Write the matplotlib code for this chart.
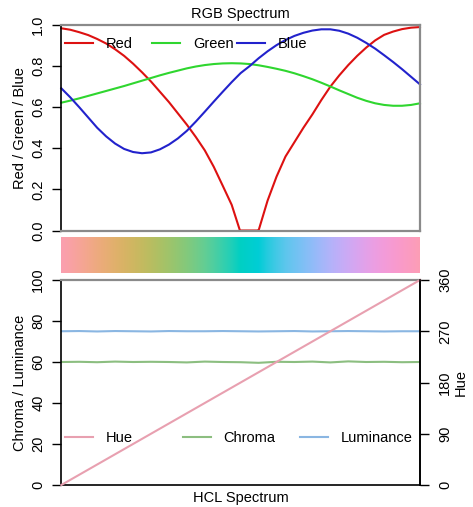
import numpy as np
import matplotlib
matplotlib.use("Agg")
import matplotlib.pyplot as plt
from matplotlib.lines import Line2D
from matplotlib.legend import Legend

plt.rcParams['font.family'] = ['Liberation Sans', 'DejaVu Sans']
plt.rcParams['font.size'] = 10.5

# RGB spectrum values (position along palette 0..1)
pos = [0.0, 0.025, 0.05, 0.075, 0.1, 0.125, 0.15, 0.175, 0.2, 0.225,
       0.25, 0.275, 0.3, 0.325, 0.35, 0.375, 0.4, 0.425, 0.45, 0.475,
       0.5, 0.525, 0.55, 0.575, 0.6, 0.625, 0.65, 0.675, 0.7, 0.725,
       0.75, 0.775, 0.8, 0.825, 0.85, 0.875, 0.9, 0.925, 0.95, 0.975, 1.0]
red = [0.984, 0.977, 0.965, 0.951, 0.932, 0.91, 0.882, 0.85, 0.812, 0.77,
       0.725, 0.675, 0.625, 0.57, 0.515, 0.455, 0.39, 0.31, 0.218, 0.125,
       0.0, 0.0, 0.0, 0.145, 0.262, 0.36, 0.43, 0.50, 0.565, 0.635,
       0.70, 0.755, 0.805, 0.85, 0.89, 0.925, 0.952, 0.968, 0.98, 0.987, 0.99]
green = [0.622, 0.632, 0.643, 0.655, 0.667, 0.679, 0.691, 0.703, 0.716, 0.729,
         0.742, 0.755, 0.767, 0.778, 0.789, 0.798, 0.805, 0.81, 0.813, 0.814,
         0.813, 0.81, 0.804, 0.796, 0.787, 0.777, 0.765, 0.751, 0.736, 0.719,
         0.701, 0.682, 0.664, 0.646, 0.631, 0.619, 0.611, 0.607, 0.607, 0.611, 0.619]
blue = [0.692, 0.648, 0.60, 0.55, 0.50, 0.458, 0.423, 0.397, 0.382, 0.376,
        0.38, 0.395, 0.418, 0.448, 0.485, 0.53, 0.578, 0.627, 0.675, 0.722,
        0.766, 0.80, 0.838, 0.872, 0.902, 0.927, 0.947, 0.962, 0.973, 0.979,
        0.979, 0.972, 0.958, 0.938, 0.913, 0.885, 0.853, 0.82, 0.785, 0.748, 0.711]

# red touches zero between these two positions
red_zero = [0.498, 0.549]

# HCL spectrum
hue_pos = [0.0, 1.0]
hue = [0, 360]
hcl_pos = [0.0, 0.05, 0.1, 0.15, 0.2, 0.25, 0.3, 0.35, 0.4, 0.45, 0.5,
           0.55, 0.6, 0.65, 0.7, 0.75, 0.8, 0.85, 0.9, 0.95, 1.0]
chroma = [60.0, 60.1, 59.9, 60.2, 60.0, 60.1, 60.0, 59.8, 60.2, 60.0, 59.9,
          59.6, 60.1, 60.0, 60.2, 59.8, 60.3, 60.0, 60.1, 59.9, 60.0]
luminance = [75.0, 75.1, 74.9, 75.1, 75.0, 74.9, 75.1, 75.0, 75.0, 75.1, 75.0,
             74.9, 75.0, 75.1, 74.9, 75.0, 75.1, 75.0, 74.9, 75.0, 75.0]

RED, GREEN, BLUE = "#DD1111", "#2FD62F", "#2222CC"
HUE_C, CHR_C, LUM_C = "#E8A0B0", "#8CBE80", "#8AB6E2"
BOX = "#8a8a8a"

W, H = 473, 507
fig = plt.figure(figsize=(W / 100, H / 100), dpi=100)

def box(l, t, r, b):
    return [l / W, 1 - b / H, (r - l) / W, (b - t) / H]

ax1 = fig.add_axes(box(61.3, 25, 420, 230.5))
axc = fig.add_axes(box(61.3, 237, 420, 273))
ax2 = fig.add_axes(box(61.3, 280, 420, 485))

# top: RGB (red line gets the exact zero stretch)
red_x = [p for p in pos if p < red_zero[0]] + red_zero + [p for p in pos if p > red_zero[1]]
red_y = [v for p, v in zip(pos, red) if p < red_zero[0]] + [0.0, 0.0] + \
        [v for p, v in zip(pos, red) if p > red_zero[1]]
ax1.plot(red_x, red_y, color=RED, lw=1.5, clip_on=False)
ax1.plot(pos, green, color=GREEN, lw=1.5, clip_on=False)
ax1.plot(pos, blue, color=BLUE, lw=1.5, clip_on=False)
ax1.set_xlim(0, 1)
ax1.set_ylim(0, 1)
ax1.set_xticks([])
ax1.set_yticks([0, 0.2, 0.4, 0.6, 0.8, 1.0])
ax1.set_yticklabels(["0.0", "0.2", "0.4", "0.6", "0.8", "1.0"])
ax1.set_ylabel("Red / Green / Blue", labelpad=3)
ax1.set_title("RGB Spectrum", pad=5, fontsize=10.5)
for s in ["top", "right", "bottom"]:
    ax1.spines[s].set_color(BOX)
    ax1.spines[s].set_linewidth(1.6)
ax1.spines["left"].set_linewidth(1.2)

# colour bar from the RGB values
img = np.array([list(zip(red, green, blue))])
axc.imshow(img, aspect="auto", interpolation="bilinear",
           extent=(-0.0125, 1.0125, 0, 1))
axc.set_xlim(0, 1)
axc.axis("off")

# bottom: HCL
ax2.plot(hcl_pos, chroma, color=CHR_C, lw=1.5)
ax2.plot(hcl_pos, luminance, color=LUM_C, lw=1.5)
ax2.set_xlim(0, 1)
ax2.set_ylim(0, 100)
ax2.set_xticks([])
ax2.set_yticks([0, 20, 40, 60, 80, 100])
ax2.set_ylabel("Chroma / Luminance", labelpad=3)
ax2.set_xlabel("HCL Spectrum", labelpad=4)
ax2.spines["top"].set_color(BOX)
ax2.spines["top"].set_linewidth(1.6)
for s in ["bottom", "left", "right"]:
    ax2.spines[s].set_linewidth(1.2)

ax3 = ax2.twinx()
ax3.plot(hue_pos, hue, color=HUE_C, lw=1.5, clip_on=False)
ax3.set_ylim(0, 360)
ax3.set_yticks([0, 90, 180, 270, 360])
ax3.set_ylabel("Hue", labelpad=1)
for s in ["top", "bottom", "left"]:
    ax3.spines[s].set_visible(False)
ax3.spines["right"].set_linewidth(1.2)

for a in (ax1, ax2):
    a.tick_params(axis="y", length=6.5, width=1, pad=5, labelrotation=90)
ax3.tick_params(axis="y", length=6.5, width=1, pad=6.5, labelrotation=90)
for a in (ax1, ax2, ax3):
    for lab in a.get_yticklabels():
        lab.set_va("center")

# legends (R style, one entry each)
def entry(ax, x, y, col, text):
    h = Line2D([], [], color=col, lw=1.5)
    lg = Legend(ax, [h], [text], loc="center left", bbox_to_anchor=(x, y),
                frameon=False, borderpad=0, borderaxespad=0,
                handlelength=1.9, handletextpad=0.9)
    ax.add_artist(lg)

entry(ax1, 0.0103, 0.9075, RED, "Red")
entry(ax1, 0.253, 0.9075, GREEN, "Green")
entry(ax1, 0.49, 0.9075, BLUE, "Blue")
entry(ax3, 0.0103, 0.229, HUE_C, "Hue")
entry(ax3, 0.339, 0.229, CHR_C, "Chroma")
entry(ax3, 0.665, 0.229, LUM_C, "Luminance")

fig.savefig("out.png", dpi=100)
